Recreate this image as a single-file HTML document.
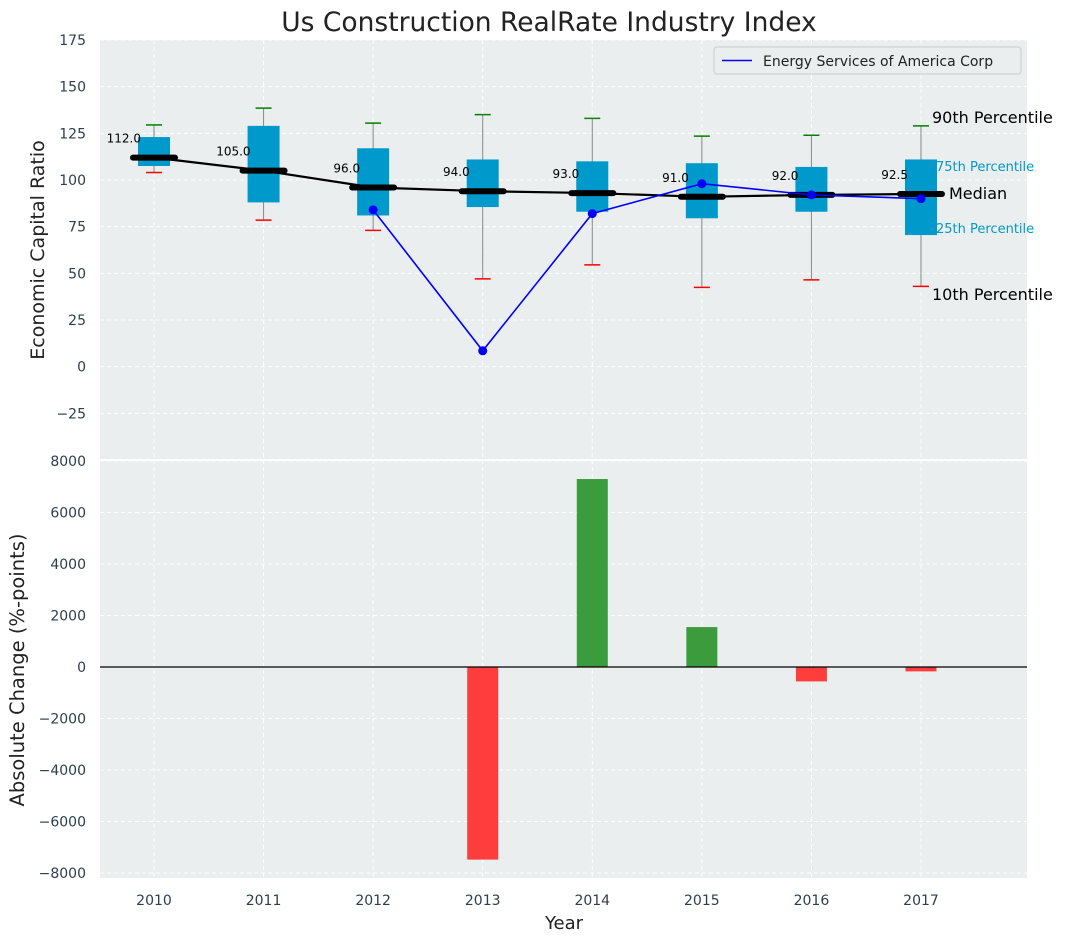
<!DOCTYPE html>
<html><head><meta charset="utf-8"><style>
body{margin:0;background:#fff;font-family:"Liberation Sans","DejaVu Sans",sans-serif;}
svg text{font-family:"DejaVu Sans","Liberation Sans",sans-serif;}
</style></head><body>
<svg id="chart" width="1067" height="942" xmlns="http://www.w3.org/2000/svg"></svg>
<script>
const years=['2010','2011','2012','2013','2014','2015','2016','2017'];
const q1=[107.5,88,81,85.5,83,79.5,83,70.5];
const q3=[123,129,117,111,110,109,107,111];
const p10=[104,78.5,73,47,54.5,42.5,46.5,43];
const p90=[129.5,138.5,130.5,135,133,123.5,124,129];
const medians=[112,105,96,94,93,91,92,92.5];
const companyYears=[2,3,4,5,6,7];
const companyVals=[84,8.5,82,98,92,90];
const changeYears=[3,4,5,6,7];
const changeVals=[-7480,7300,1550,-560,-170];
const topTicks=[-25,0,25,50,75,100,125,150,175];
const botTicks=[-8000,-6000,-4000,-2000,0,2000,4000,6000,8000];

const NS='http://www.w3.org/2000/svg';
const svg=document.getElementById('chart');
function el(t,a,p){const e=document.createElementNS(NS,t);for(const k in a)e.setAttribute(k,a[k]);(p||svg).appendChild(e);return e;}
const L=100,R=1027;
const x=i=>154+i*109.57;
const T0=40,T1=460,yT=v=>T0+(175-v)*(T1-T0)/225;
const B0=460,B1=878,yB=v=>667-v*51.5/2000;

const title=el('text',{x:549,y:31,'text-anchor':'middle','font-size':26.5,fill:'#222'});title.textContent='Us Construction RealRate Industry Index';



const bg1=el('rect',{x:L,y:T0,width:R-L,height:T1-T0,fill:'#eaeeee'});


const bg2=el('rect',{x:L,y:B0+1,width:R-L,height:B1-B0-1,fill:'#eaeeee'});



years.forEach((y,i)=>{
 el('line',{x1:x(i),x2:x(i),y1:T0,y2:T1,stroke:'#fff','stroke-dasharray':'4,3'});
 el('line',{x1:x(i),x2:x(i),y1:B0,y2:B1,stroke:'#fff','stroke-dasharray':'4,3'});
 const t=el('text',{x:x(i),y:905,'text-anchor':'middle','font-size':14,fill:'#2c3e50'});t.textContent=y;
 
 
});
topTicks.forEach(v=>{
 el('line',{x1:L,x2:R,y1:yT(v),y2:yT(v),stroke:'#fff','stroke-dasharray':'4,3'});
 const t=el('text',{x:86,y:yT(v)+5,'text-anchor':'end','font-size':14,fill:'#2c3e50'});t.textContent=v<0?'\u2212'+(-v):v;
 
 
});
botTicks.forEach(v=>{
 el('line',{x1:L,x2:R,y1:yB(v),y2:yB(v),stroke:'#fff','stroke-dasharray':'4,3'});
 const t=el('text',{x:86,y:yB(v)+5,'text-anchor':'end','font-size':14,fill:'#2c3e50'});t.textContent=v<0?'\u2212'+(-v):v;
 
 
});
el('line',{x1:L,x2:R,y1:460,y2:460,stroke:'#fff','stroke-width':2});

years.forEach((y,i)=>{
 el('line',{x1:x(i),x2:x(i),y1:yT(p90[i]),y2:yT(p10[i]),stroke:'#888','stroke-width':1});
 const b=el('rect',{x:x(i)-16,y:yT(q3[i]),width:32,height:yT(q1[i])-yT(q3[i]),fill:'#0099cc'});
 
 
 const w1=el('line',{x1:x(i)-8,x2:x(i)+8,y1:yT(p90[i]),y2:yT(p90[i]),stroke:'green','stroke-width':1.5});
 
 
 const w2=el('line',{x1:x(i)-8,x2:x(i)+8,y1:yT(p10[i]),y2:yT(p10[i]),stroke:'red','stroke-width':1.5});
 
 
});
const ml=el('polyline',{points:medians.map((m,i)=>x(i)+','+yT(m)).join(' '),fill:'none',stroke:'#000','stroke-width':2.2});


medians.forEach((m,i)=>{
 const s=el('line',{x1:x(i)-21,x2:x(i)+21,y1:yT(m),y2:yT(m),stroke:'#000','stroke-width':6,'stroke-linecap':'round'});
 
 
 const t=el('text',{x:x(i)-13,y:yT(m)-15,'text-anchor':'end','font-size':12,fill:'#000'});t.textContent=m.toFixed(1);
 
 
});
const cl=el('polyline',{points:companyYears.map((c,k)=>x(c)+','+yT(companyVals[k])).join(' '),fill:'none',stroke:'blue','stroke-width':1.6});


companyYears.forEach((c,k)=>{
 const p=el('circle',{cx:x(c),cy:yT(companyVals[k]),r:4.5,fill:'blue'});
 
 
});
const ann=[['90th Percentile',932,123,16,'#000'],['75th Percentile',936,171,13,'#0099cc'],['Median',949,199,16,'#000'],['25th Percentile',936,233,13,'#0099cc'],['10th Percentile',932,300,16,'#000']];
ann.forEach(a=>{const t=el('text',{x:a[1],y:a[2],'font-size':a[3],fill:a[4]});t.textContent=a[0];
 
 });
const lg=el('g',{});


el('rect',{x:714,y:47,width:307,height:27,rx:3,fill:'#eaeeee',stroke:'#ccc'},lg);
el('line',{x1:722,x2:752,y1:60.5,y2:60.5,stroke:'blue','stroke-width':1.6},lg);
const lt=el('text',{x:763,y:66,'font-size':14,fill:'#222'},lg);lt.textContent='Energy Services of America Corp';

changeYears.forEach((c,k)=>{
 const v=changeVals[k];
 const r=el('rect',{x:x(c)-15.5,y:Math.min(yB(v),yB(0)),width:31,height:Math.abs(yB(v)-yB(0)),fill:v>=0?'#3a9c3c':'#ff3d3d'});
 
 
});
el('line',{x1:L,x2:R,y1:yB(0),y2:yB(0),stroke:'#000','stroke-width':1.2});

const yl1=el('text',{x:44,y:250,'text-anchor':'middle','font-size':19,fill:'#222',transform:'rotate(-90 44 250)'});yl1.textContent='Economic Capital Ratio';


const yl2=el('text',{x:24,y:670,'text-anchor':'middle','font-size':19.5,fill:'#222',transform:'rotate(-90 24 670)'});yl2.textContent='Absolute Change (%-points)';


const xl=el('text',{x:564,y:929,'text-anchor':'middle','font-size':18,fill:'#222'});xl.textContent='Year';


</script>
</body></html>
